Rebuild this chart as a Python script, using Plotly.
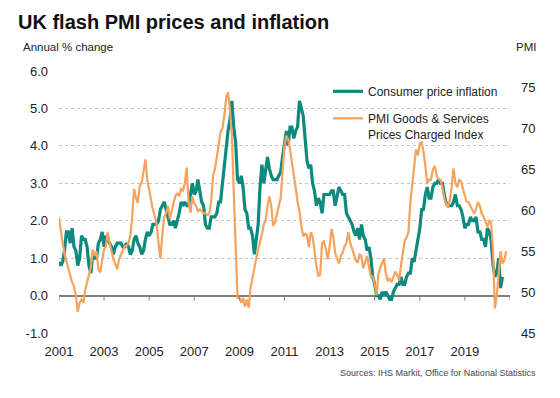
import plotly.graph_objects as go
import pandas as pd

# ---------------- data (monthly, Jan 2001 onwards) ----------------
cpi_2001 = [0.9, 0.8, 0.9, 1.2, 1.7, 1.7, 1.4, 1.8, 1.3, 1.2, 0.8, 1.0]
cpi_2002 = [1.6, 1.5, 1.5, 1.3, 0.8, 0.6, 1.1, 1.0, 1.0, 1.4, 1.5, 1.7]
cpi_2003 = [1.3, 1.6, 1.5, 1.4, 1.3, 1.1, 1.3, 1.4, 1.4, 1.4, 1.3, 1.3]
cpi_2004 = [1.4, 1.3, 1.1, 1.2, 1.5, 1.6, 1.4, 1.3, 1.1, 1.2, 1.5, 1.7]
cpi_2005 = [1.6, 1.7, 1.9, 1.9, 1.9, 2.0, 2.3, 2.4, 2.5, 2.3, 2.1, 1.9]
cpi_2006 = [1.9, 2.0, 1.8, 2.0, 2.2, 2.5, 2.4, 2.5, 2.4, 2.4, 2.7, 3.0]
cpi_2007 = [2.7, 2.8, 3.1, 2.8, 2.5, 2.4, 1.9, 1.8, 1.8, 2.1, 2.1, 2.1]
cpi_2008 = [2.2, 2.5, 2.5, 3.0, 3.3, 3.8, 4.4, 4.7, 5.2, 4.5, 4.1, 3.1]
cpi_2009 = [3.0, 3.2, 2.9, 2.3, 2.2, 1.8, 1.8, 1.6, 1.1, 1.5, 1.9, 2.9]
cpi_2010 = [3.5, 3.0, 3.4, 3.7, 3.4, 3.2, 3.1, 3.1, 3.1, 3.2, 3.3, 3.7]
cpi_2011 = [4.0, 4.4, 4.0, 4.5, 4.5, 4.2, 4.4, 4.5, 5.2, 5.0, 4.8, 4.2]
cpi_2012 = [3.6, 3.4, 3.5, 3.0, 2.8, 2.4, 2.6, 2.5, 2.2, 2.7, 2.7, 2.7]
cpi_2013 = [2.7, 2.8, 2.8, 2.4, 2.7, 2.9, 2.8, 2.7, 2.7, 2.2, 2.1, 2.0]
cpi_2014 = [1.9, 1.7, 1.6, 1.8, 1.5, 1.9, 1.6, 1.5, 1.2, 1.3, 1.0, 0.5]
cpi_2015 = [0.3, 0.0, 0.0, -0.1, 0.1, 0.0, 0.1, 0.0, -0.1, -0.1, 0.1, 0.2]
cpi_2016 = [0.3, 0.3, 0.5, 0.3, 0.3, 0.5, 0.6, 0.6, 1.0, 0.9, 1.2, 1.6]
cpi_2017 = [1.8, 2.3, 2.3, 2.7, 2.9, 2.6, 2.6, 2.9, 3.0, 3.0, 3.1, 3.0]
cpi_2018 = [3.0, 2.7, 2.5, 2.4, 2.4, 2.4, 2.5, 2.7, 2.4, 2.4, 2.3, 2.1]
cpi_2019 = [1.8, 1.9, 1.9, 2.1, 2.0, 2.0, 2.1, 1.7, 1.7, 1.5, 1.5, 1.3]
cpi_2020 = [1.8, 1.7, 1.5, 0.8, 0.5, 0.6, 1.0, 0.2, 0.5]

pmi_2001 = [59.1, 57.3, 56.0, 54.6, 53.7, 52.8, 52.1, 51.2, 50.7, 49.6, 47.6, 48.7]
pmi_2002 = [49.1, 48.7, 50.3, 51.4, 52.1, 53.0, 55.2, 54.4, 55.0, 52.8, 52.4, 53.9]
pmi_2003 = [55.2, 55.6, 57.3, 56.0, 55.0, 54.0, 53.5, 52.8, 54.0, 54.6, 55.1, 55.6]
pmi_2004 = [55.6, 56.0, 56.9, 59.2, 62.6, 61.5, 60.9, 63.0, 63.3, 65.0, 66.2, 63.7]
pmi_2005 = [62.4, 61.0, 60.1, 59.3, 58.3, 56.0, 54.1, 56.9, 59.2, 59.6, 60.5, 58.9]
pmi_2006 = [60.1, 60.9, 61.7, 62.1, 61.7, 62.6, 62.4, 63.3, 65.2, 61.0, 59.7, 61.7]
pmi_2007 = [60.8, 60.5, 59.9, 60.1, 59.9, 59.6, 59.6, 59.4, 59.6, 61.0, 64.2, 65.0]
pmi_2008 = [66.5, 67.9, 69.5, 70.0, 71.5, 73.8, 74.4, 72.3, 69.2, 62.4, 54.6, 49.3]
pmi_2009 = [49.3, 48.7, 49.3, 48.2, 49.1, 48.1, 50.5, 51.9, 52.8, 54.1, 55.2, 56.0]
pmi_2010 = [57.1, 58.3, 58.7, 60.5, 61.7, 60.5, 58.1, 58.5, 59.7, 60.5, 61.5, 64.7]
pmi_2011 = [67.9, 69.1, 68.7, 67.4, 66.0, 64.2, 62.8, 61.0, 59.9, 58.1, 56.8, 57.1]
pmi_2012 = [57.0, 55.5, 57.3, 56.8, 54.8, 53.2, 52.0, 52.1, 56.0, 56.2, 55.3, 54.0]
pmi_2013 = [55.5, 57.7, 56.8, 54.8, 54.1, 53.5, 54.4, 54.8, 55.6, 56.0, 57.3, 56.0]
pmi_2014 = [55.3, 54.6, 53.9, 53.6, 54.6, 54.4, 52.9, 53.7, 54.4, 53.0, 51.9, 51.9]
pmi_2015 = [51.0, 49.6, 52.1, 53.0, 53.5, 54.1, 52.3, 51.4, 51.6, 51.2, 51.9, 52.5]
pmi_2016 = [52.1, 51.4, 53.2, 54.8, 56.2, 56.7, 57.3, 61.0, 63.3, 66.0, 67.4, 66.7]
pmi_2017 = [68.1, 68.3, 67.2, 65.4, 63.3, 63.7, 63.7, 65.0, 65.4, 64.2, 63.8, 63.7]
pmi_2018 = [62.8, 61.5, 60.8, 60.3, 61.2, 62.8, 65.1, 63.3, 62.8, 63.7, 63.5, 62.4]
pmi_2019 = [61.7, 61.0, 61.0, 60.5, 60.1, 59.6, 60.1, 61.0, 60.5, 59.6, 59.2, 58.5]
pmi_2020 = [58.0, 58.7, 58.5, 55.1, 48.0, 49.6, 52.5, 55.0, 53.5, 53.9, 55.0]

tick_years = [2001, 2003, 2005, 2007, 2009, 2011, 2013, 2015, 2017, 2019]
tick_mark_years = tick_years + [2021]
left_ticks = [-1, 0, 1, 2, 3, 4, 5, 6]
right_ticks = [45, 50, 55, 60, 65, 70, 75]

cpi = (cpi_2001 + cpi_2002 + cpi_2003 + cpi_2004 + cpi_2005 + cpi_2006 + cpi_2007 +
       cpi_2008 + cpi_2009 + cpi_2010 + cpi_2011 + cpi_2012 + cpi_2013 + cpi_2014 +
       cpi_2015 + cpi_2016 + cpi_2017 + cpi_2018 + cpi_2019 + cpi_2020)
pmi = (pmi_2001 + pmi_2002 + pmi_2003 + pmi_2004 + pmi_2005 + pmi_2006 + pmi_2007 +
       pmi_2008 + pmi_2009 + pmi_2010 + pmi_2011 + pmi_2012 + pmi_2013 + pmi_2014 +
       pmi_2015 + pmi_2016 + pmi_2017 + pmi_2018 + pmi_2019 + pmi_2020)

cpi_dates = pd.date_range("2001-01-01", periods=len(cpi), freq="MS")
pmi_dates = pd.date_range("2001-01-01", periods=len(pmi), freq="MS")

# ---------------- layout geometry (page pixels; page body has an 8px margin) ----
OFF = 8
PAGE_W, PAGE_H = 560, 398
W, H = PAGE_W - OFF, PAGE_H - OFF
PLOT_L, PLOT_R, PLOT_T, PLOT_B = 59, 510, 71, 333   # plot box in page pixels
ML, MT = PLOT_L - OFF, PLOT_T - OFF
MR = W - (PLOT_R - OFF)
MB = H - (PLOT_B - OFF)
PW, PH = PLOT_R - PLOT_L, PLOT_B - PLOT_T

def px(x):
    return (x - PLOT_L) / PW

def py(y):
    return (PLOT_B - y) / PH

TEAL = "#0b8a7d"
ORANGE = "#f5a35c"
FONT = "Arial, Liberation Sans, sans-serif"

fig = go.Figure()
fig.add_trace(go.Scatter(
    x=cpi_dates, y=cpi, name="Consumer price inflation", mode="lines",
    line=dict(color=TEAL, width=3.2), yaxis="y", legendgroup="a"))
fig.add_trace(go.Scatter(
    x=pmi_dates, y=pmi, name="PMI Goods & Services<br>Prices Charged Index",
    mode="lines", line=dict(color=ORANGE, width=2.2), yaxis="y2", legendgroup="b"))

shapes = []
for yr in tick_mark_years:
    shapes.append(dict(type="line", xref="x", yref="y", ysizemode="pixel", yanchor=0,
                       x0=f"{yr}-01-01", x1=f"{yr}-01-01", y0=0, y1=-5,
                       line=dict(color="#7f7f7f", width=1)))

fig.update_layout(
    width=W, height=H, autosize=False,
    margin=dict(l=ML, r=MR, t=MT, b=MB),
    paper_bgcolor="white", plot_bgcolor="white",
    font=dict(family=FONT, color="#222222"),
    title=dict(text="<b>UK flash PMI prices and inflation</b>",
               xref="container", yref="container", x=(18 - OFF) / W, xanchor="left",
               y=1 - (22 - OFF) / H, yanchor="middle",
               font=dict(size=20, color="#111111", family=FONT)),
    xaxis=dict(type="date", range=["2001-01-01", "2021-01-01"],
               tickvals=[f"{y}-01-01" for y in tick_years],
               ticktext=[str(y) for y in tick_years],
               showgrid=False, showline=False, zeroline=False,
               ticks="outside", ticklen=6, tickcolor="rgba(0,0,0,0)",
               tickfont=dict(size=13, color="#222222")),
    yaxis=dict(range=[-1, 6], tickvals=left_ticks,
               ticktext=[f"{v:.1f}" for v in left_ticks],
               showgrid=True, gridcolor="#c4c4c4", griddash="3px,3px", gridwidth=1,
               zeroline=True, zerolinecolor="#7f7f7f", zerolinewidth=1.5,
               showline=False, ticks="", ticklabelstandoff=10,
               tickfont=dict(size=13, color="#222222")),
    yaxis2=dict(range=[45, 77], tickvals=right_ticks,
                ticktext=[str(v) for v in right_ticks],
                overlaying="y", side="right", showgrid=False, zeroline=False,
                showline=False, ticks="", ticklabelstandoff=10,
                tickfont=dict(size=13, color="#222222")),
    legend=dict(x=px(328), y=py(77), xanchor="left", yanchor="top",
                bgcolor="rgba(0,0,0,0)", font=dict(size=12, color="#222222"),
                valign="top", tracegroupgap=8, itemwidth=30),
    showlegend=True,
    shapes=shapes,
    annotations=[
        dict(text="Annual % change", xref="paper", yref="paper",
             x=px(21), y=py(47), xanchor="left", yanchor="middle",
             showarrow=False, font=dict(size=11.5, color="#222222")),
        dict(text="PMI", xref="paper", yref="paper",
             x=px(538), y=py(47), xanchor="right", yanchor="middle",
             showarrow=False, font=dict(size=11.5, color="#222222")),
        dict(text="Sources: IHS Markit, Office for National Statistics",
             xref="paper", yref="paper", x=px(538), y=py(373),
             xanchor="right", yanchor="middle", showarrow=False,
             font=dict(size=9, color="#444444")),
    ],
)

fig.write_html("out.html")
